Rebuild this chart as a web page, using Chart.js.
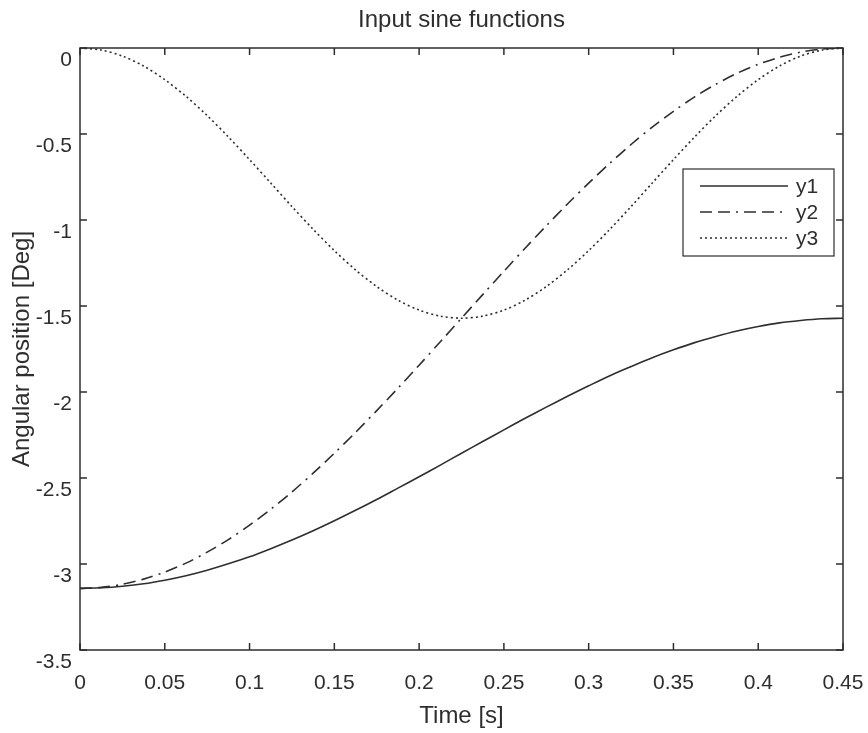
<!DOCTYPE html>
<html>
<head>
<meta charset="utf-8">
<title>Input sine functions</title>
<script src="https://cdn.jsdelivr.net/npm/chart.js@4.4.1/dist/chart.umd.min.js"></script>
<style>
  html, body { margin: 0; padding: 0; background: #fff; }
  #wrap { width: 868px; height: 733px; }
</style>
</head>
<body>
<div id="wrap"><canvas id="grafica" width="868" height="733"></canvas></div>
<script>
// time samples [s]
var TIEMPO = [0, 0.0125, 0.025, 0.0375, 0.05, 0.0625, 0.075, 0.0875, 0.1, 0.1125, 0.125, 0.1375, 0.15, 0.1625, 0.175, 0.1875, 0.2, 0.2125, 0.225,
	0.2375, 0.25, 0.2625, 0.275, 0.2875, 0.3, 0.3125, 0.325, 0.3375, 0.35, 0.3625, 0.375, 0.3875, 0.4, 0.4125, 0.425, 0.4375, 0.45];
// angular position [Deg]
var Y1 = [-3.142, -3.138, -3.129, -3.115, -3.094, -3.068, -3.036, -2.999, -2.958, -2.911, -2.861, -2.807, -2.749, -2.688, -2.625, -2.559, -2.493, -2.425, -2.356,
	-2.288, -2.220, -2.153, -2.088, -2.025, -1.964, -1.905, -1.852, -1.801, -1.755, -1.713, -1.677, -1.645, -1.619, -1.598, -1.584, -1.574, -1.571];
var Y2 = [-3.142, -3.136, -3.118, -3.088, -3.047, -2.995, -2.931, -2.858, -2.774, -2.682, -2.581, -2.472, -2.356, -2.235, -2.108, -1.978, -1.844, -1.708, -1.571,
	-1.434, -1.298, -1.164, -1.034, -0.907, -0.786, -0.670, -0.561, -0.460, -0.368, -0.284, -0.211, -0.147, -0.095, -0.054, -0.024, -0.006, 0];
var Y3 = [0, -0.012, -0.047, -0.105, -0.184, -0.281, -0.393, -0.517, -0.649, -0.785, -0.922, -1.054, -1.178, -1.290, -1.387, -1.466, -1.524, -1.559, -1.571,
	-1.559, -1.524, -1.466, -1.387, -1.290, -1.178, -1.054, -0.922, -0.785, -0.649, -0.517, -0.393, -0.281, -0.184, -0.105, -0.047, -0.012, 0];
var SERIES = ["y1", "y2", "y3"];
// tick values
var TICKS_X = [0, 0.05, 0.1, 0.15, 0.2, 0.25, 0.3, 0.35, 0.4, 0.45];
var TICKS_Y = [-3.5, -3, -2.5, -2, -1.5, -1, -0.5, 0];

var FUENTE = "'Liberation Sans', Arial, Helvetica, sans-serif";
var TINTA = '#2e2e2e';

function puntos(ys){
	var arr = new Array();
	for (var i = 0; i < TIEMPO.length; i++){
		arr.push({x: TIEMPO[i], y: ys[i]});
	}
	return arr;
}

function fijarTicks(lista){
	return function(scale){
		scale.ticks = lista.map(function(v){ return {value: v}; });
	};
}

function etiqueta(v){
	return String(Math.round(v * 100) / 100);
}

// MATLAB style box, inward ticks, title and legend
var cajaMatlab = {
	id: 'cajaMatlab',
	afterDraw: function(chart){
		var ctx = chart.ctx, a = chart.chartArea;
		var sx = chart.scales.x, sy = chart.scales.y;
		ctx.save();
		ctx.strokeStyle = TINTA;
		ctx.lineWidth = 1.5;
		ctx.setLineDash([]);
		ctx.strokeRect(a.left, a.top, a.right - a.left, a.bottom - a.top);
		ctx.beginPath();
		sx.ticks.forEach(function(t){
			var px = sx.getPixelForValue(t.value);
			ctx.moveTo(px, a.bottom); ctx.lineTo(px, a.bottom - 7);
			ctx.moveTo(px, a.top); ctx.lineTo(px, a.top + 7);
		});
		sy.ticks.forEach(function(t){
			var py = sy.getPixelForValue(t.value);
			ctx.moveTo(a.left, py); ctx.lineTo(a.left + 7, py);
			ctx.moveTo(a.right, py); ctx.lineTo(a.right - 7, py);
		});
		ctx.stroke();

		// title
		ctx.fillStyle = TINTA;
		ctx.font = '24px ' + FUENTE;
		ctx.textAlign = 'center';
		ctx.textBaseline = 'middle';
		ctx.fillText('Input sine functions', (a.left + a.right) / 2, 20);

		// legend
		var bx = a.right - 160, by = a.top + 121, bw = 151, bh = 87;
		ctx.fillStyle = '#ffffff';
		ctx.fillRect(bx, by, bw, bh);
		ctx.lineWidth = 1.2;
		ctx.strokeRect(bx, by, bw, bh);
		ctx.font = '21px ' + FUENTE;
		ctx.textAlign = 'left';
		chart.data.datasets.forEach(function(ds, i){
			var ly = by + 17 + i * 26;
			ctx.strokeStyle = TINTA;
			ctx.lineWidth = ds.borderWidth;
			ctx.setLineDash(ds.borderDash || []);
			ctx.beginPath();
			ctx.moveTo(bx + 17, ly);
			ctx.lineTo(bx + 105, ly);
			ctx.stroke();
			ctx.setLineDash([]);
			ctx.fillStyle = TINTA;
			ctx.fillText(ds.label, bx + 113, ly + 1);
		});
		ctx.restore();
	}
};

var config = {
	type: 'line',
	data: {
		datasets: [
			{label: SERIES[0], data: puntos(Y1), borderColor: TINTA, borderWidth: 1.6, borderDash: []},
			{label: SERIES[1], data: puntos(Y2), borderColor: TINTA, borderWidth: 1.6, borderDash: [12, 6, 12, 6, 2, 6]},
			{label: SERIES[2], data: puntos(Y3), borderColor: TINTA, borderWidth: 1.6, borderDash: [2, 3]}
		]
	},
	options: {
		responsive: false,
		animation: false,
		layout: { padding: { top: 48, right: 25, left: 0, bottom: 0 } },
		elements: {
			point: { radius: 0 },
			line: { tension: 0.3, fill: false }
		},
		plugins: {
			legend: { display: false },
			title: { display: false },
			tooltip: { enabled: false }
		},
		scales: {
			x: {
				type: 'linear',
				min: 0,
				max: 0.45,
				afterBuildTicks: fijarTicks(TICKS_X),
				afterFit: function(scale){ scale.height = 83; scale.paddingLeft = 0; scale.paddingRight = 0; },
				grid: { display: false, drawTicks: false },
				border: { display: false },
				ticks: { color: TINTA, padding: 21, maxRotation: 0, autoSkip: false, callback: etiqueta, font: { family: FUENTE, size: 21 } },
				title: { display: true, text: 'Time [s]', color: TINTA, padding: { top: 0, bottom: 2 }, font: { family: FUENTE, size: 24 } }
			},
			y: {
				type: 'linear',
				min: -3.5,
				max: 0,
				afterBuildTicks: fijarTicks(TICKS_Y),
				afterFit: function(scale){ scale.width = 80; scale.paddingTop = 0; scale.paddingBottom = 0; },
				grid: { display: false, drawTicks: false },
				border: { display: false },
				ticks: { color: TINTA, padding: 8, labelOffset: 12, autoSkip: false, callback: etiqueta, font: { family: FUENTE, size: 21 } },
				title: { display: true, text: 'Angular position [Deg]', color: TINTA, padding: { top: 8, bottom: 0 }, font: { family: FUENTE, size: 24 } }
			}
		}
	},
	plugins: [cajaMatlab]
};

new Chart(document.getElementById('grafica').getContext('2d'), config);
</script>
</body>
</html>
